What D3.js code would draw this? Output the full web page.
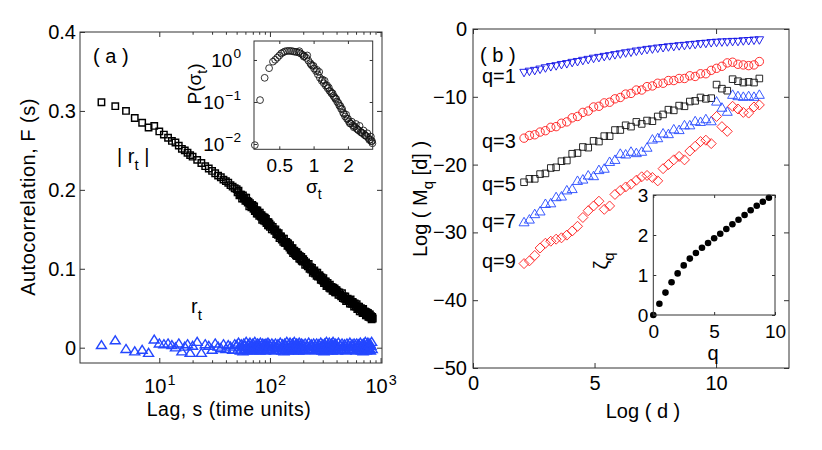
<!DOCTYPE html>
<html>
<head>
<meta charset="utf-8">
<script src="https://cdn.jsdelivr.net/npm/d3@7"></script>
<style>
  body { margin: 0; background: #fff; }
  text { font-family: "Liberation Sans", Arial, Helvetica, sans-serif; fill: #000; }
</style>
</head>
<body>
<svg id="chart" width="822" height="450"></svg>
<script>
/* ============================
      Data
   ============================ */
// (a) autocorrelation of |r_t| and r_t vs lag s
const lags = [3, 4, 5, 6, 7, 8, 9, 10, 11, 12, 13, 14, 15, 16, 17, 18, 19, 20,
  22, 24, 26, 28, 30, 32, 34, 36, 38, 40, 42, 44, 46, 48,
  50, 51, 52, 53, 54, 55, 56, 57, 58, 59, 60, 61, 62, 63, 64, 65, 66, 67, 68, 69,
  70, 71, 72, 73, 74, 75, 76, 77, 78, 79, 80, 81, 82, 83, 84, 85, 86, 87, 88, 89,
  90, 91, 92, 93, 94, 95, 96, 97, 98, 99, 100,
  102, 104, 106, 108, 110, 112, 114, 116, 118, 120, 122, 124, 126, 128, 130, 132, 134, 136, 138, 140,
  142, 144, 146, 148, 150, 152, 154, 156, 158, 160, 162, 164, 166, 168, 170, 172, 174, 176, 178, 180,
  182, 184, 186, 188, 190, 192, 194, 196, 198, 200,
  204, 208, 212, 216, 220, 224, 228, 232, 236, 240, 244, 248, 252, 256, 260, 264, 268, 272, 276, 280,
  284, 288, 292, 296, 300, 304, 308, 312, 316, 320, 324, 328, 332, 336, 340, 344, 348, 352, 356, 360,
  364, 368, 372, 376, 380, 384, 388, 392, 396, 400,
  408, 416, 424, 432, 440, 448, 456, 464, 472, 480, 488, 496, 504, 512, 520, 528, 536, 544, 552, 560,
  568, 576, 584, 592, 600, 608, 616, 624, 632, 640, 648, 656, 664, 672, 680, 688, 696, 704, 712, 720,
  728, 736, 744, 752, 760, 768, 776, 784, 792, 800,
  810, 820, 830, 840, 850];
const absCorr = [0.311, 0.306, 0.300, 0.291, 0.285, 0.279, 0.281, 0.274, 0.270, 0.266, 0.262, 0.260, 0.256, 0.252, 0.250, 0.247, 0.244, 0.242,
  0.238, 0.234, 0.230, 0.227, 0.224, 0.221, 0.218, 0.216, 0.213, 0.211, 0.209, 0.206, 0.204, 0.202,
  0.201, 0.197, 0.199, 0.193, 0.194, 0.194, 0.189, 0.193, 0.189, 0.190, 0.186, 0.190, 0.186, 0.184, 0.185, 0.179, 0.183, 0.181, 0.178, 0.181,
  0.180, 0.176, 0.179, 0.173, 0.174, 0.174, 0.170, 0.174, 0.170, 0.171, 0.167, 0.171, 0.168, 0.166, 0.168, 0.162, 0.166, 0.164, 0.161, 0.165,
  0.164, 0.160, 0.163, 0.158, 0.159, 0.159, 0.155, 0.159, 0.155, 0.157, 0.153,
  0.155, 0.150, 0.153, 0.150, 0.148, 0.150, 0.144, 0.146, 0.143, 0.145, 0.139, 0.141, 0.141, 0.137, 0.138, 0.134, 0.138, 0.133, 0.133, 0.134,
  0.133, 0.129, 0.132, 0.129, 0.127, 0.130, 0.124, 0.126, 0.123, 0.126, 0.120, 0.122, 0.123, 0.119, 0.121, 0.117, 0.121, 0.116, 0.117, 0.118,
  0.116, 0.113, 0.116, 0.113, 0.112, 0.115, 0.110, 0.112, 0.109, 0.112,
  0.110, 0.105, 0.108, 0.105, 0.103, 0.106, 0.100, 0.102, 0.099, 0.101, 0.095, 0.097, 0.098, 0.094, 0.095, 0.091, 0.095, 0.090, 0.091, 0.092,
  0.090, 0.086, 0.089, 0.086, 0.085, 0.088, 0.082, 0.084, 0.082, 0.084, 0.078, 0.080, 0.082, 0.078, 0.079, 0.076, 0.080, 0.075, 0.076, 0.077,
  0.076, 0.072, 0.076, 0.073, 0.072, 0.075, 0.070, 0.073, 0.070, 0.073,
  0.071, 0.067, 0.070, 0.067, 0.065, 0.069, 0.063, 0.065, 0.062, 0.065, 0.059, 0.061, 0.062, 0.059, 0.060, 0.056, 0.061, 0.056, 0.056, 0.058,
  0.056, 0.052, 0.056, 0.053, 0.052, 0.055, 0.049, 0.052, 0.049, 0.052, 0.046, 0.049, 0.050, 0.046, 0.048, 0.044, 0.049, 0.044, 0.045, 0.046,
  0.045, 0.041, 0.045, 0.042, 0.041, 0.044, 0.039, 0.042, 0.039, 0.042,
  0.038, 0.040, 0.036, 0.039, 0.037];
const rawCorr = [0.004, 0.010, -0.001, -0.004, -0.002, -0.006, 0.011, 0.006, 0.005, 0.006, 0.004, 0.001, 0.006, -0.004, 0.002, 0.005, -0.006, 0.003,
  0.008, -0.006, 0.005, 0.003, -0.002, 0.006, 0.002, 0.000, 0.005, -0.001, 0.004, 0.002, -0.002, 0.005,
  0.004, -0.002, 0.007, 0.001, -0.003, 0.005, 0.002, -0.004, 0.006, 0.003, -0.001, 0.008, 0.002, -0.003, 0.005, 0.001, 0.007, -0.002, 0.004, 0.000,
  0.006, -0.003, 0.003, 0.008, -0.001, 0.004, 0.001, 0.006, -0.002, 0.005, 0.002, -0.003, 0.007, 0.001, 0.004, -0.002, 0.006, 0.002, -0.001, 0.005,
  0.003, -0.003, 0.006, 0.001, 0.004, -0.002, 0.007, 0.002, -0.001, 0.005, 0.003,
  -0.002, 0.006, 0.001, 0.004, -0.003, 0.006, 0.002, 0.000, 0.005, 0.004, -0.002, 0.007, 0.001, -0.003, 0.005, 0.002, -0.004, 0.006, 0.003,
  -0.001, 0.008, 0.002, -0.003, 0.005, 0.001, 0.007, -0.002, 0.004, 0.000, 0.006, -0.003, 0.003, 0.008, -0.001, 0.004, 0.001, 0.006, -0.002, 0.005,
  0.002, -0.003, 0.007, 0.001, 0.004, -0.002, 0.006, 0.002, -0.001, 0.005,
  0.003, -0.003, 0.006, 0.001, 0.004, -0.002, 0.007, 0.002, -0.001, 0.005, 0.003, -0.002, 0.006, 0.001, 0.004, -0.003, 0.006, 0.002, 0.000, 0.005,
  0.004, -0.002, 0.007, 0.001, -0.003, 0.005, 0.002, -0.004, 0.006, 0.003, -0.001, 0.008, 0.002, -0.003, 0.005, 0.001, 0.007, -0.002, 0.004, 0.000,
  0.006, -0.003, 0.003, 0.008, -0.001, 0.004, 0.001, 0.006, -0.002, 0.005,
  0.002, -0.003, 0.007, 0.001, 0.004, -0.002, 0.006, 0.002, -0.001, 0.005, 0.003, -0.003, 0.006, 0.001, 0.004, -0.002, 0.007, 0.002, -0.001, 0.005,
  0.003, -0.002, 0.006, 0.001, 0.004, -0.003, 0.006, 0.002, 0.000, 0.005, 0.004, -0.002, 0.007, 0.001, -0.003, 0.005, 0.002, -0.004, 0.006, 0.003,
  -0.001, 0.008, 0.002, -0.003, 0.005, 0.001, 0.007, -0.002, 0.004, 0.000,
  0.006, -0.003, 0.003, 0.008, -0.001];

// inset (a): distribution P(sigma_t)
const sigma = [0.305, 0.339, 0.372, 0.407, 0.44, 0.46, 0.48, 0.50, 0.52, 0.54, 0.56, 0.585, 0.61, 0.635, 0.66, 0.685, 0.71, 0.74, 0.77, 0.80,
  0.83, 0.865, 0.90, 0.935, 0.97, 1.01, 1.05, 1.09, 1.135, 1.18, 1.23, 1.28, 1.33, 1.38, 1.435, 1.49, 1.55, 1.61, 1.68, 1.745,
  1.815, 1.89, 1.965, 2.04, 2.12, 2.21, 2.30, 2.39, 2.48, 2.58, 2.68, 2.79, 2.90, 3.02, 3.14, 3.22, 3.28,
  0.75, 0.82, 0.88, 0.95, 1.0, 1.07, 1.12, 1.2, 1.25, 1.31, 1.36, 1.42, 1.47, 1.53, 1.58, 1.65, 1.72, 1.78, 1.85, 1.93,
  2.0, 2.08, 2.16, 2.25, 2.35, 2.44, 2.53, 2.63, 2.74, 2.85, 2.96, 3.08, 3.18, 3.25];
const pSigma = [0.0094, 0.111, 0.376, 0.638, 0.912, 1.01, 1.135, 1.27, 1.43, 1.51, 1.60, 1.64, 1.64, 1.64, 1.60, 1.57, 1.55, 1.50, 1.43, 1.33,
  1.245, 1.12, 0.966, 0.841, 0.733, 0.624, 0.543, 0.452, 0.376, 0.320, 0.279, 0.243, 0.211, 0.184, 0.160, 0.140, 0.119, 0.101, 0.0822, 0.0684,
  0.0556, 0.0452, 0.0394, 0.0343, 0.0305, 0.0279, 0.0260, 0.0232, 0.0211, 0.0193, 0.0180, 0.0164, 0.0153, 0.0140, 0.0127, 0.0116, 0.0104,
  1.62, 1.20, 1.28, 0.78, 0.72, 0.58, 0.52, 0.34, 0.32, 0.25, 0.22, 0.175, 0.16, 0.13, 0.118, 0.095, 0.080, 0.068, 0.052, 0.050,
  0.040, 0.031, 0.034, 0.025, 0.030, 0.022, 0.027, 0.019, 0.021, 0.016, 0.018, 0.0125, 0.015, 0.0118];

// (b) Log M_q[d] vs Log d
const logD = [2.10, 2.32, 2.54, 2.76, 2.98, 3.20, 3.42, 3.64, 3.86, 4.08, 4.30, 4.52, 4.74, 4.96, 5.18,
  5.40, 5.62, 5.84, 6.06, 6.28, 6.50, 6.72, 6.94, 7.16, 7.38, 7.60, 7.82, 8.04, 8.26, 8.48,
  8.70, 8.92, 9.14, 9.36, 9.58, 9.80, 10.02, 10.24, 10.46, 10.68, 10.90, 11.12, 11.34, 11.56, 11.78];
const logM1 = [-6.50, -6.33, -6.21, -6.02, -5.83, -5.65, -5.52, -5.34, -5.21, -5.03, -4.90, -4.73, -4.59, -4.42, -4.30,
  -4.15, -4.04, -3.89, -3.77, -3.62, -3.51, -3.36, -3.25, -3.12, -3.04, -2.92, -2.84, -2.73, -2.67, -2.57,
  -2.52, -2.42, -2.36, -2.26, -2.21, -2.11, -2.06, -2.01, -1.99, -1.94, -1.93, -1.84, -1.81, -1.74, -1.70];
const logM3 = [-16.1, -15.7, -15.6, -15.2, -15.0, -14.5, -14.4, -13.9, -13.7, -13.1, -12.9, -12.3, -12.1, -11.5, -11.4,
  -10.9, -10.8, -10.3, -10.1, -9.6, -9.5, -9.0, -9.0, -8.5, -8.4, -8.0, -8.0, -7.6, -7.6, -7.3,
  -7.3, -6.9, -7.0, -6.6, -6.6, -6.1, -5.8, -5.5, -5.0, -4.9, -5.2, -5.3, -5.4, -5.3, -4.8];
const logM5 = [-22.6, -22.1, -22.1, -21.4, -21.3, -20.5, -20.4, -19.5, -19.4, -18.4, -18.3, -17.4, -17.5, -16.5, -16.6,
  -15.8, -15.8, -14.9, -14.9, -14.2, -14.4, -13.7, -14.0, -13.5, -13.6, -12.9, -12.6, -11.9, -12.0, -11.3,
  -11.4, -10.7, -10.6, -10.1, -10.3, -10.2, -8.2, -8.8, -9.1, -7.4, -7.7, -7.9, -7.8, -7.9, -7.3];
const logM7 = [-28.4, -28.0, -27.2, -26.8, -25.7, -25.6, -24.7, -24.6, -23.7, -23.5, -22.3, -22.1, -21.5, -21.6, -20.7,
  -20.5, -19.5, -19.2, -18.3, -18.4, -18.0, -18.2, -18.0, -17.4, -16.2, -16.0, -15.3, -15.4, -14.7, -14.8,
  -14.1, -14.1, -13.5, -13.6, -13.2, -13.5, -10.6, -11.5, -12.1, -9.6, -9.8, -9.9, -9.8, -9.9, -9.6];
const logM9 = [-34.6, -34.2, -33.4, -32.3, -31.6, -31.3, -31.0, -30.8, -30.4, -29.8, -29.1, -27.8, -26.8, -26.1, -25.4,
  -26.6, -26.1, -24.4, -23.8, -23.3, -22.9, -22.3, -21.8, -21.6, -21.9, -22.4, -20.6, -20.0, -19.3, -18.8,
  -19.3, -18.0, -17.3, -16.6, -16.4, -16.9, -12.9, -14.4, -15.1, -11.4, -11.8, -12.3, -12.4, -11.5, -11.2];
const qLabels = ["q=1", "q=3", "q=5", "q=7", "q=9"];

// inset (b): scaling exponents zeta_q
const qValues = [0, 0.5, 1, 1.5, 2, 2.5, 3, 3.5, 4, 4.5, 5, 5.5, 6, 6.5, 7, 7.5, 8, 8.5, 9, 9.5];
const zeta = [0, 0.28, 0.56, 0.82, 1.04, 1.24, 1.41, 1.55, 1.68, 1.80, 1.92, 2.03, 2.15, 2.27, 2.38, 2.50, 2.62, 2.73, 2.83, 2.93];

// tick values
const xTicksA = [10, 100, 1000];
const xMinorA = [20, 30, 40, 50, 60, 70, 80, 90, 200, 300, 400, 500, 600, 700, 800, 900];
const yTicksA = [0, 0.1, 0.2, 0.3, 0.4];
const xTicksInsetA = [0.5, 1, 2];
const yTicksInsetA = [0.01, 0.1, 1];
const xTicksB = [0, 5, 10];
const yTicksB = [0, -10, -20, -30, -40, -50];
const xTicksInsetB = [0, 5, 10];
const yTicksInsetB = [0, 1, 2, 3];

/* ============================
      Drawing
   ============================ */
const svg = d3.select("#chart");
const axisColor = "#333";
const blue = "#2447ff", darkBlue = "#0d0de6", red = "#ff1a1a";

// marker outlines, centred on the data point
const marker = {
  square: s => `M${-s / 2},${-s / 2}h${s}v${s}h${-s}Z`,
  diamond: s => `M0,${-s / 2}L${s / 2},0L0,${s / 2}L${-s / 2},0Z`,
  triUp: (w, h) => `M0,${-h / 2}L${w / 2},${h / 2}L${-w / 2},${h / 2}Z`,
  triDown: (w, h) => `M0,${h / 2}L${w / 2},${-h / 2}L${-w / 2},${-h / 2}Z`
};

function plotMarkers(g, x, y, xs, ys, pathD, stroke, sw) {
  g.append("g")
    .selectAll("path")
    .data(d3.zip(xs, ys))
    .join("path")
    .attr("transform", d => `translate(${x(d[0])},${y(d[1])})`)
    .attr("d", pathD)
    .attr("fill", "none")
    .attr("stroke", stroke)
    .attr("stroke-width", sw);
}

function superscript(sel, fmtExp) {
  sel.selectAll(".tick text").each(function(d) {
    const t = d3.select(this);
    t.text(null);
    t.append("tspan").text("10");
    t.append("tspan").attr("dx", 1).attr("dy", "-0.6em").attr("font-size", "0.72em").text(fmtExp(d));
  });
}

// draw a box with inward ticks on all four sides
function axesBox(x, y, opt) {
  const g = svg.append("g");
  const [x0, x1] = x.range();
  const [yb, yt] = y.range();
  const len = opt.len;
  const bottom = g.append("g").attr("transform", `translate(0,${yb})`)
    .call(d3.axisBottom(x).tickValues(opt.xt).tickSize(-len).tickSizeOuter(0)
      .tickPadding(opt.xPad).tickFormat(opt.xFmt));
  g.append("g").attr("transform", `translate(0,${yt})`)
    .call(d3.axisTop(x).tickValues(opt.xt).tickSize(-len).tickSizeOuter(0).tickFormat(""));
  const left = g.append("g").attr("transform", `translate(${x0},0)`)
    .call(d3.axisLeft(y).tickValues(opt.yt).tickSize(-len).tickSizeOuter(0)
      .tickPadding(opt.yPad).tickFormat(opt.yFmt));
  g.append("g").attr("transform", `translate(${x1},0)`)
    .call(d3.axisRight(y).tickValues(opt.yt).tickSize(-len).tickSizeOuter(0).tickFormat(""));
  if (opt.xMinor) {
    g.append("g").attr("transform", `translate(0,${yb})`)
      .call(d3.axisBottom(x).tickValues(opt.xMinor).tickSize(-len * 0.55).tickSizeOuter(0).tickFormat(""));
    g.append("g").attr("transform", `translate(0,${yt})`)
      .call(d3.axisTop(x).tickValues(opt.xMinor).tickSize(-len * 0.55).tickSizeOuter(0).tickFormat(""));
  }
  g.selectAll(".domain").remove();
  g.selectAll(".tick line").attr("stroke", axisColor);
  g.selectAll("text").attr("font-family", null).attr("fill", "#000");
  bottom.selectAll("text").attr("font-size", opt.fs);
  left.selectAll("text").attr("font-size", opt.fs);
  g.append("rect")
    .attr("x", x0).attr("y", yt).attr("width", x1 - x0).attr("height", yb - yt)
    .attr("fill", "none").attr("stroke", axisColor).attr("stroke-width", 1);
  return { bottom, left };
}

/* ---------- panel (a) ---------- */
const xA = d3.scaleLog().domain([1.92, 1030]).range([80, 382]);
const yA = d3.scaleLinear().domain([-0.0194, 0.4]).range([363, 32]);

const gA = svg.append("g");
plotMarkers(gA, xA, yA, lags, absCorr, marker.square(6.4), "#000", 1.45);
plotMarkers(gA, xA, yA, lags, rawCorr, marker.triUp(10, 8), blue, 1.4);

const axA = axesBox(xA, yA, {
  xt: xTicksA, yt: yTicksA, xMinor: xMinorA, len: 5,
  xPad: 16, yPad: 4, fs: 20,
  xFmt: d => d, yFmt: d => d === 0 ? "0" : d3.format(".1f")(d)
});
superscript(axA.bottom, d => Math.round(Math.log10(d)));

gA.append("text").attr("x", 93).attr("y", 63).attr("font-size", 20).text("( a )");
const lblAbs = gA.append("text").attr("x", 117).attr("y", 163).attr("font-size", 20);
lblAbs.append("tspan").text("| r");
lblAbs.append("tspan").attr("dy", 7).attr("font-size", 15).text("t");
lblAbs.append("tspan").attr("dy", -7).text(" |");
const lblRaw = gA.append("text").attr("x", 191).attr("y", 313).attr("font-size", 20);
lblRaw.append("tspan").text("r");
lblRaw.append("tspan").attr("dy", 7).attr("font-size", 15).text("t");

svg.append("text").attr("transform", "translate(35,197) rotate(-90)")
  .attr("text-anchor", "middle").attr("font-size", 20).attr("letter-spacing", 0.5)
  .text("Autocorrelation, F (s)");
svg.append("text").attr("x", 229).attr("y", 416)
  .attr("text-anchor", "middle").attr("font-size", 19.5).attr("letter-spacing", 0.5)
  .text("Lag, s (time units)");

/* ---------- inset (a) ---------- */
const xIA = d3.scaleLog().domain([0.3, 3.3]).range([254, 372.7]);
const yIA = d3.scaleLog().domain([0.00748, 2.83]).range([149.3, 41]);

svg.append("rect").attr("x", 254).attr("y", 41).attr("width", 118.7).attr("height", 108.3).attr("fill", "#fff");
const gIA = svg.append("g");
gIA.append("g").selectAll("circle")
  .data(d3.zip(sigma, pSigma))
  .join("circle")
  .attr("cx", d => xIA(d[0])).attr("cy", d => yIA(d[1])).attr("r", 3.4)
  .attr("fill", "none").attr("stroke", "#111").attr("stroke-width", 0.85);

const axIA = axesBox(xIA, yIA, {
  xt: xTicksInsetA, yt: yTicksInsetA, len: 3,
  xPad: 9, yPad: 13, fs: 19,
  xFmt: d => d, yFmt: d => d
});
superscript(axIA.left, d => {
  const e = Math.round(Math.log10(d));
  return e < 0 ? "\u2212" + (-e) : String(e);
});

const lblP = svg.append("text").attr("transform", "translate(201,84) rotate(-90)")
  .attr("text-anchor", "middle").attr("font-size", 19);
lblP.append("tspan").text("P(\u03c3");
lblP.append("tspan").attr("dy", 6).attr("font-size", 14).text("t");
lblP.append("tspan").attr("dy", -6).text(")");
const lblS = svg.append("text").attr("x", 306).attr("y", 193).attr("font-size", 19);
lblS.append("tspan").text("\u03c3");
lblS.append("tspan").attr("dy", 6).attr("font-size", 14).text("t");

/* ---------- panel (b) ---------- */
const xB = d3.scaleLinear().domain([0, 13]).range([473, 789]);
const yB = d3.scaleLinear().domain([-50, 0]).range([368, 29]);

const seriesB = [logM1, logM3, logM5, logM7, logM9];
const styleB = [
  { d: marker.triDown(8.5, 7.5), stroke: darkBlue },
  { d: null, stroke: red },
  { d: marker.square(6.6), stroke: "#111" },
  { d: marker.triUp(10, 8.5), stroke: blue },
  { d: marker.diamond(10), stroke: red }
];
const labelYB = [83, 148, 191, 228, 268];

const gB = svg.append("g");
seriesB.forEach((vals, i) => {
  const st = styleB[i];
  if (st.d) {
    plotMarkers(gB, xB, yB, logD, vals, st.d, st.stroke, 0.9);
  } else {
    gB.append("g").selectAll("circle")
      .data(d3.zip(logD, vals))
      .join("circle")
      .attr("cx", d => xB(d[0])).attr("cy", d => yB(d[1])).attr("r", 4.2)
      .attr("fill", "none").attr("stroke", st.stroke).attr("stroke-width", 0.9);
  }
  gB.append("text").attr("x", 482).attr("y", labelYB[i]).attr("font-size", 20).text(qLabels[i]);
});

axesBox(xB, yB, {
  xt: xTicksB, yt: yTicksB, len: 5,
  xPad: 8, yPad: 6, fs: 20,
  xFmt: d => d, yFmt: d => d < 0 ? "\u2212" + (-d) : d
});

gB.append("text").attr("x", 480).attr("y", 62).attr("font-size", 20).text("( b )");
const lblM = svg.append("text").attr("transform", "translate(427,199) rotate(-90)")
  .attr("text-anchor", "middle").attr("font-size", 20);
lblM.append("tspan").text("Log ( M");
lblM.append("tspan").attr("dy", 6).attr("font-size", 15).text("q");
lblM.append("tspan").attr("dy", -6).text(" [d] )");
svg.append("text").attr("x", 643).attr("y", 418)
  .attr("text-anchor", "middle").attr("font-size", 20).text("Log ( d )");

/* ---------- inset (b) ---------- */
const xIB = d3.scaleLinear().domain([0, 10]).range([653.3, 775]);
const yIB = d3.scaleLinear().domain([0, 3]).range([315, 195]);

svg.append("rect").attr("x", 653.3).attr("y", 195).attr("width", 121.7).attr("height", 120).attr("fill", "#fff");
svg.append("g").selectAll("circle")
  .data(d3.zip(qValues, zeta))
  .join("circle")
  .attr("cx", d => xIB(d[0])).attr("cy", d => yIB(d[1])).attr("r", 3.3)
  .attr("fill", "#000");

axesBox(xIB, yIB, {
  xt: xTicksInsetB, yt: yTicksInsetB, len: 3,
  xPad: 10, yPad: 5, fs: 19,
  xFmt: d => d, yFmt: d => d
});

const lblZ = svg.append("text").attr("transform", "translate(608,261) rotate(-90)")
  .attr("text-anchor", "middle").attr("font-size", 20);
lblZ.append("tspan").text("\u03b6");
lblZ.append("tspan").attr("dy", 6).attr("font-size", 15).text("q");
svg.append("text").attr("x", 713).attr("y", 360)
  .attr("text-anchor", "middle").attr("font-size", 20).text("q");
</script>
</body>
</html>
